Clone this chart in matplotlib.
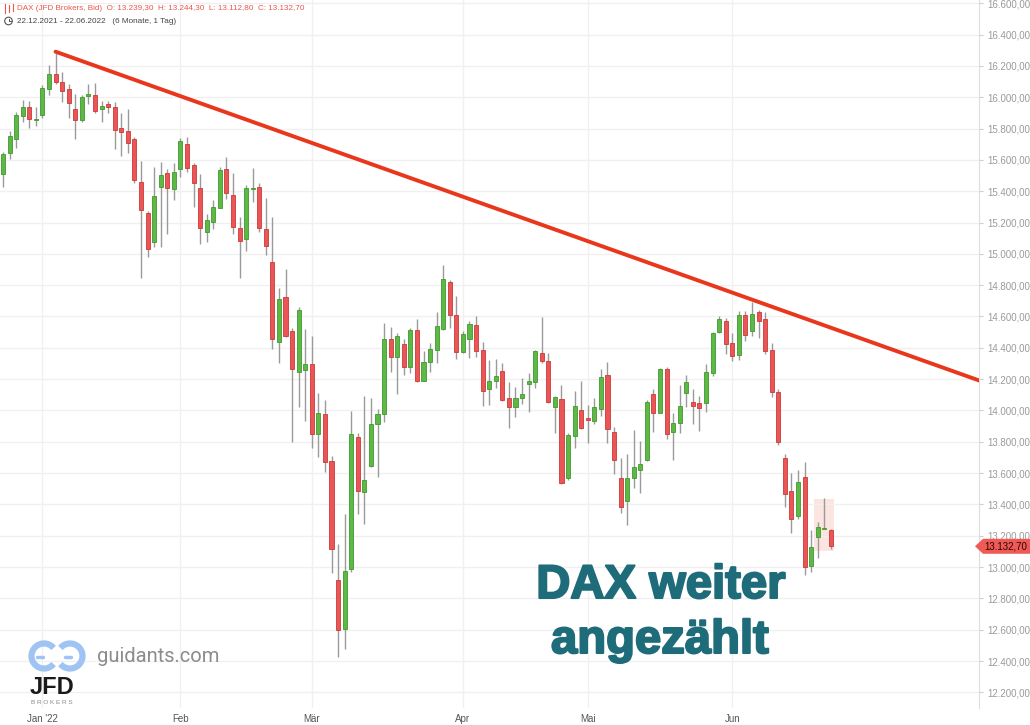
import matplotlib
matplotlib.use("Agg")
import matplotlib.pyplot as plt
import matplotlib.patheffects as pe
from matplotlib.patches import Rectangle, Polygon, Circle, Arc

# daily candles 22.12.2021 - 22.06.2022 (index = trading day)
opens = [15510, 15642, 15733, 15882, 15936, 15852, 15886, 16054, 16146, 16097,
         16055, 15925, 15857, 16006, 16016, 15923, 15957, 15936, 15801, 15782,
         15733, 15459, 15263, 15077, 15429, 15518, 15412, 15540, 15701, 15565,
         15422, 15141, 15205, 15295, 15540, 15374, 15163, 15093, 15412, 15425,
         15159, 14950, 14439, 14726, 14509, 14247, 14258, 14294, 13849, 13979,
         13679, 12917, 12602, 12987, 13832, 13477, 13645, 13913, 13979, 14454,
         14343, 14426, 14275, 14513, 14190, 14311, 14388, 14520, 14822, 14609,
         14375, 14458, 14545, 14386, 14135, 14190, 14252, 14077, 14024, 14081,
         14167, 14183, 14369, 14317, 14024, 14071, 13570, 13838, 14003, 13952,
         13934, 14011, 14226, 13864, 13566, 13421, 13566, 13619, 13683, 14103,
         13985, 14263, 13860, 13921, 14113, 14056, 14045, 14045, 14241, 14503,
         14569, 14432, 14354, 14607, 14509, 14626, 14582, 14386, 14116, 13698,
         13485, 13326, 13573, 13008, 13190, 13243, 13239.3]
highs = [15650, 15786, 15907, 15982, 15974, 15936, 16076, 16206, 16291, 16159,
         16084, 16021, 16014, 16084, 16093, 15978, 15974, 15969, 15901, 15925,
         15748, 15593, 15275, 15556, 15588, 15540, 15582, 15738, 15748, 15582,
         15510, 15254, 15344, 15552, 15616, 15518, 15233, 15439, 15546, 15450,
         15358, 15237, 14784, 14901, 14524, 14662, 14518, 14475, 14113, 14066,
         13709, 13147, 13338, 13994, 13858, 14094, 14077, 14007, 14556, 14531,
         14496, 14456, 14524, 14582, 14379, 14432, 14626, 14929, 14833, 14733,
         14509, 14571, 14603, 14439, 14322, 14326, 14301, 14183, 14151, 14205,
         14237, 14386, 14598, 14369, 14092, 14162, 13858, 14124, 14190, 14035,
         14081, 14265, 14311, 13896, 13694, 13722, 13875, 13805, 14066, 14137,
         14269, 14275, 13982, 14162, 14226, 14135, 14092, 14296, 14499, 14603,
         14588, 14496, 14637, 14637, 14694, 14641, 14630, 14432, 14135, 13720,
         13602, 13619, 13672, 13236, 13289, 13439, 13244.3]
lows = [15429, 15607, 15674, 15840, 15805, 15818, 15865, 16014, 16083, 15971,
        15865, 15731, 15840, 15957, 15897, 15842, 15901, 15671, 15627, 15642,
        15454, 14844, 14982, 15045, 15045, 15125, 15343, 15489, 15524, 15297,
        15062, 15077, 15159, 15291, 15352, 15125, 14844, 15018, 15329, 15141,
        14992, 14392, 14305, 14469, 13796, 14024, 13934, 13758, 13704, 13609,
        12960, 12427, 12474, 12970, 13338, 13275, 13641, 13577, 13928, 14243,
        14105, 14226, 14237, 14183, 14185, 14243, 14301, 14515, 14528, 14326,
        14370, 14333, 14339, 14030, 14035, 14141, 14060, 13886, 13960, 14041,
        13992, 14141, 14301, 14045, 13854, 13530, 13556, 13762, 13880, 13790,
        13913, 13964, 13790, 13594, 13343, 13268, 13506, 13474, 13680, 13864,
        13982, 13816, 13683, 13854, 14024, 13911, 13870, 13988, 14222, 14492,
        14360, 14317, 14322, 14443, 14477, 14460, 14360, 14088, 13779, 13381,
        13219, 13305, 12949, 12970, 13056, 13240, 13112.8]
closes = [15637, 15754, 15886, 15940, 15861, 15858, 16057, 16148, 16099, 16038,
          15961, 15857, 16001, 16019, 15914, 15943, 15936, 15791, 15776, 15705,
          15471, 15280, 15029, 15369, 15503, 15422, 15521, 15721, 15550, 15450,
          15167, 15216, 15297, 15535, 15386, 15170, 15082, 15418, 15418, 15163,
          15050, 14456, 14709, 14477, 14263, 14641, 14294, 13849, 13983, 13672,
          13115, 12598, 12974, 13847, 13487, 13556, 13913, 13979, 14454, 14343,
          14473, 14279, 14513, 14190, 14311, 14392, 14537, 14837, 14609, 14371,
          14486, 14552, 14381, 14126, 14190, 14220, 14066, 14020, 14081, 14105,
          14190, 14379, 14317, 14055, 14084, 13535, 13843, 14030, 13886, 13941,
          14020, 14216, 13883, 13683, 13385, 13566, 13637, 13658, 14052, 13982,
          14263, 13849, 13918, 14028, 14183, 14030, 14017, 14243, 14492, 14582,
          14422, 14349, 14607, 14482, 14616, 14573, 14381, 14116, 13796, 13464,
          13307, 13541, 13002, 13126, 13254, 13251, 13132.7]

month_pos = [6, 27, 47, 70, 89, 111]
month_labels = ["Jan '22", "Feb", "Mär", "Apr", "Mai", "Jun"]
price_ticks = list(range(12200, 16601, 200))

# trend line (from the January high down to the right edge)
trend_x = [8, 150]
trend_y = [16291, 14170]


def de_fmt(v):
    s = '{:,.2f}'.format(v)
    return s.replace(',', 'X').replace('.', ',').replace('X', '.')


W, H = 1030, 725
plt.rcParams['font.family'] = ['Liberation Sans', 'DejaVu Sans']
fig = plt.figure(figsize=(W / 100, H / 100), dpi=100)
ax = fig.add_axes([0, 17 / H, 979 / W, 1 - 17 / H])

xs = list(range(len(opens)))
up = [c >= o for o, c in zip(opens, closes)]
body_lo = [min(o, c) for o, c in zip(opens, closes)]
body_h = [max(abs(c - o), 7) for o, c in zip(opens, closes)]
face = ['#5db845' if u else '#ea5555' for u in up]
edge = ['#3f9a2c' if u else '#cc3838' for u in up]

ax.vlines(xs, lows, highs, color='#9a9a9a', lw=1, zorder=2)
ax.bar(xs, body_h, bottom=body_lo, width=0.62, color=face, edgecolor=edge,
       linewidth=0.6, zorder=3)

# highlight of the last days
ax.add_patch(Rectangle((123.5, 13104), 2.95, 328, facecolor='#fbd3cc',
                       alpha=0.6, edgecolor='none', zorder=1))

ax.plot(trend_x, trend_y, color='#e8371c', lw=2.8, solid_capstyle='round', zorder=4)

ax.set_xlim(-0.46, 148.55)
ax.set_ylim(12100, 16621)

ax.set_yticks(price_ticks)
ax.set_yticklabels([de_fmt(v) for v in price_ticks])
ax.yaxis.tick_right()
ax.tick_params(axis='y', length=3, color='#cccccc', labelsize=7,
               labelcolor='#9a9a9a', pad=3)
ax.set_xticks(month_pos)
ax.set_xticklabels(month_labels)
ax.tick_params(axis='x', length=0, labelsize=7, labelcolor='#555555', pad=4)
ax.grid(color='#f0f0f0', lw=1, zorder=0)
for s in ['left', 'top', 'bottom']:
    ax.spines[s].set_visible(False)
ax.spines['right'].set_color('#dddddd')

# overlay in pixel coordinates for decorations
deco = fig.add_axes([0, 0, 1, 1], zorder=5)
deco.set_xlim(0, W)
deco.set_ylim(H, 0)
deco.axis('off')

# last price tag
_, py = ax.transData.transform((0, closes[-1]))
py = H - py
deco.add_patch(Polygon([(975, py), (983, py - 7.5), (1030, py - 7.5),
                        (1030, py + 7.5), (983, py + 7.5)],
                       closed=True, facecolor='#ef5a55', edgecolor='none'))
deco.text(1006, py + 0.5, de_fmt(closes[-1]), fontsize=7, color='#2a0505',
          ha='center', va='center')

# header
deco.plot([5, 5], [4, 13], color='#e8584f', lw=0.8)
deco.plot([9, 9], [5, 12], color='#e8584f', lw=0.8)
deco.plot([13, 13], [4, 11], color='#e8584f', lw=0.8)
deco.text(17, 8.5, 'DAX (JFD Brokers, Bid)  O: 13.239,30  H: 13.244,30  L: 13.112,80  C: 13.132,70',
          fontsize=5.9, color='#e8584f', va='center', ha='left')
deco.add_patch(Circle((8.5, 21), 3.8, facecolor='none', edgecolor='#555555', lw=0.8))
deco.plot([8.5, 8.5, 10.5], [18.5, 21, 21], color='#555555', lw=0.7)
deco.text(17, 21.5, '22.12.2021 - 22.06.2022   (6 Monate, 1 Tag)',
          fontsize=5.9, color='#444444', va='center', ha='left')

# headline
thick = [pe.withStroke(linewidth=1.5, foreground='#1e6b79')]
deco.text(661, 586, 'DAX weiter', fontsize=34, fontweight='bold', color='#1e6b79',
          ha='center', va='center', path_effects=thick)
deco.text(660, 641, 'angezählt', fontsize=34, fontweight='bold', color='#1e6b79',
          ha='center', va='center', path_effects=thick)

# guidants / JFD logo
deco.add_patch(Arc((44, 656), 25, 25, theta1=40, theta2=320, color='#9fc4f3', lw=4.5))
deco.add_patch(Arc((70, 656), 25, 25, theta1=220, theta2=500, color='#9fc4f3', lw=4.5))
deco.plot([37, 43], [657, 657], color='#9fc4f3', lw=2.5, solid_capstyle='round')
deco.plot([65, 71], [657, 657], color='#9fc4f3', lw=2.5, solid_capstyle='round')
deco.text(97, 656, 'guidants.com', fontsize=14.5, color='#8c8c8c', va='center',
          ha='left', family=['Roboto', 'DejaVu Sans'])
deco.text(52, 687, 'JFD', fontsize=17, fontweight='bold', color='#1a1a1a',
          ha='center', va='center')
deco.text(52, 703, 'B R O K E R S', fontsize=4.6, color='#888888', ha='center', va='center')

fig.savefig('out.png', dpi=100)
